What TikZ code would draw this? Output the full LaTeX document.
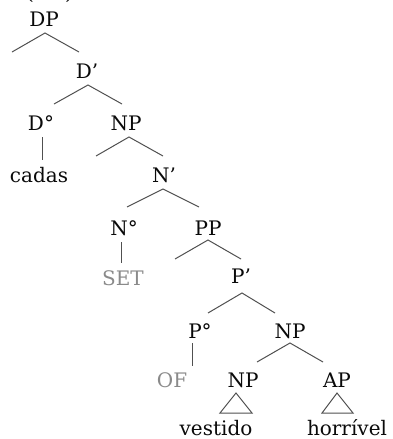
\documentclass[tikz,border=0pt]{standalone}
\usepackage{fontspec}
\setmainfont{DejaVu Serif}
\definecolor{branchcol}{HTML}{505050}
\definecolor{glosscol}{HTML}{8A8A8A}
\definecolor{labelcol}{HTML}{0A0A0A}
\begin{document}
\begin{tikzpicture}[x=1pt,y=-1pt,
  lbl/.style={anchor=base, inner sep=0pt, text=labelcol,
              font=\fontsize{20}{24}\selectfont},
  gloss/.style={lbl, text=glosscol},
  branch/.style={draw=branchcol, line width=1pt, line join=miter},
]
\useasboundingbox (0,0) rectangle (393,439);

% example number, cut off at the top edge
\node[lbl] (lparen) at (30,0) {(};
\node[lbl] (rparen) at (69,0) {)};

% category labels
\node[lbl] (DP)   at (44,27)  {DP};
\node[lbl] (Dbar) at (87,78)  {D’};
\node[lbl] (D0)   at (41,130) {D°};
\node[lbl] (NPa)  at (126,130) {NP};
\node[lbl] (Nbar) at (164,182) {N’};
\node[lbl] (N0)   at (124,235) {N°};
\node[lbl] (PP)   at (208,235) {PP};
\node[lbl] (Pbar) at (241,283) {P’};
\node[lbl] (P0)   at (200,338) {P°};
\node[lbl] (NPb)  at (290,338) {NP};
\node[lbl] (NPc)  at (243,387) {NP};
\node[lbl] (AP)   at (337,387) {AP};

% terminals
\node[lbl]   (cadas)    at (39,182)  {cadas};
\node[gloss] (SET)      at (123,285) {SET};
\node[gloss] (OF)       at (172,387) {OF};
\node[lbl]   (vestido)  at (216,435) {vestido};
\node[lbl]   (horrivel) at (347,435) {horrível};

% branch points
\coordinate (DPa)  at (45,33);  \coordinate (DPl)  at (12,52);  \coordinate (DPr)  at (79,52);
\coordinate (Dba)  at (88,85);  \coordinate (Dbl)  at (54,104); \coordinate (Dbr)  at (122,104);
\coordinate (NPaa) at (129,137);\coordinate (NPal) at (96,156); \coordinate (NPar) at (163,156);
\coordinate (Nba)  at (163,189);\coordinate (Nbl)  at (127,207);\coordinate (Nbr)  at (199,207);
\coordinate (PPa)  at (208,240);\coordinate (PPl)  at (175,259);\coordinate (PPr)  at (241,259);
\coordinate (Pba)  at (242,293);\coordinate (Pbl)  at (208,313);\coordinate (Pbr)  at (275,313);
\coordinate (NPba) at (290,343);\coordinate (NPbl) at (257,362);\coordinate (NPbr) at (323,362);

% unary branches
\coordinate (D0t) at (42,137);  \coordinate (D0b) at (42,160);
\coordinate (N0t) at (121,242); \coordinate (N0b) at (121,263);
\coordinate (P0t) at (192,343); \coordinate (P0b) at (192,366);

% roof corners
\coordinate (NPct) at (236,393); \coordinate (NPcl) at (220,413); \coordinate (NPcr) at (252,413);
\coordinate (APt)  at (337,393); \coordinate (APl)  at (322,413); \coordinate (APr)  at (353,413);

\draw[branch] (DPl) -- (DPa) -- (DPr);
\draw[branch] (Dbl) -- (Dba) -- (Dbr);
\draw[branch] (NPal) -- (NPaa) -- (NPar);
\draw[branch] (Nbl) -- (Nba) -- (Nbr);
\draw[branch] (PPl) -- (PPa) -- (PPr);
\draw[branch] (Pbl) -- (Pba) -- (Pbr);
\draw[branch] (NPbl) -- (NPba) -- (NPbr);

\draw[branch] (D0t) -- (D0b);
\draw[branch] (N0t) -- (N0b);
\draw[branch] (P0t) -- (P0b);

\draw[branch] (NPct) -- (NPcl) -- (NPcr) -- cycle;
\draw[branch] (APt) -- (APl) -- (APr) -- cycle;
\end{tikzpicture}
\end{document}
